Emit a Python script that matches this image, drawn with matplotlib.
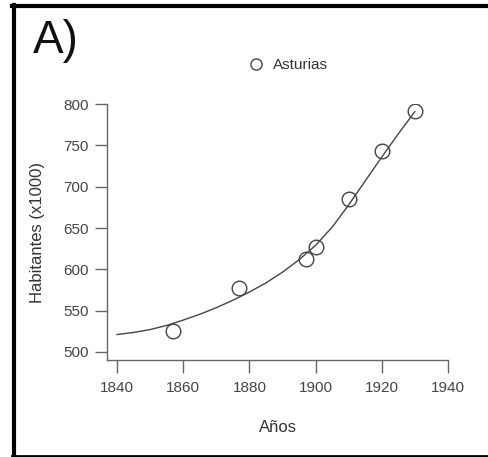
import matplotlib
matplotlib.use('Agg')
import matplotlib.pyplot as plt
from matplotlib.lines import Line2D

# datos
anios = [1857, 1877, 1897, 1900, 1910, 1920, 1930]
habitantes = [525, 577, 612, 627, 685, 743, 792]

anios_curva = [1840, 1845, 1850, 1855, 1860, 1865, 1870, 1875, 1880, 1885,
               1890, 1895, 1900, 1905, 1910, 1915, 1920, 1925, 1930]
valores_curva = [521, 523.5, 527, 532, 538.5, 545.5, 553.5, 562.5, 572.5, 583.5,
                 596.5, 611.5, 629, 651, 678, 707, 736, 764, 791]

xticks = [1840, 1860, 1880, 1900, 1920, 1940]
yticks = [500, 550, 600, 650, 700, 750, 800]

plt.rcParams['font.family'] = ['Liberation Sans', 'DejaVu Sans']

fig = plt.figure(figsize=(4.89, 4.57), dpi=100)
ax = fig.add_axes([0.219, 0.212, 0.697, 0.56])

gris = '#444444'
ax.plot(anios_curva, valores_curva, color=gris, lw=1.0)
ax.plot(anios, habitantes, 'o', mfc='none', mec=gris, ms=10.5, mew=1.0)

ax.set_xlim(1837, 1940)
ax.set_ylim(490, 800)
ax.set_xticks(xticks)
ax.set_yticks(yticks)
for s in ['top', 'right']:
    ax.spines[s].set_visible(False)
for s in ['left', 'bottom']:
    ax.spines[s].set_color('#666666')
    ax.spines[s].set_linewidth(1.0)
ax.tick_params(colors='#666666', labelcolor='#444444', length=9, width=1.0,
               labelsize=11, pad=4)
ax.tick_params(axis='x', pad=6)
ax.set_xlabel('Años', fontsize=12, color='#333333', labelpad=18)
ax.set_ylabel('Habitantes (x1000)', fontsize=12, color='#333333', labelpad=13)

h = Line2D([], [], marker='o', ls='none', mfc='none', mec=gris, ms=8, mew=1.0)
fig.legend([h], ['Asturias'], loc='center', bbox_to_anchor=(0.59, 0.857),
           frameon=False, fontsize=11, handletextpad=0.6, handlelength=1.0,
           labelcolor='#333333')

fig.text(0.067, 0.884, 'A)', fontsize=33, color='#111111', va='baseline')

# marco negro
fig.add_artist(Line2D([0.028, 0.028], [0.0, 0.988], transform=fig.transFigure,
                      color='black', lw=3))
fig.add_artist(Line2D([0.025, 1.0], [0.986, 0.986], transform=fig.transFigure,
                      color='black', lw=3))
fig.add_artist(Line2D([0.025, 1.0], [0.002, 0.002], transform=fig.transFigure,
                      color='black', lw=2))

fig.savefig('out.png', dpi=100, facecolor='white')
